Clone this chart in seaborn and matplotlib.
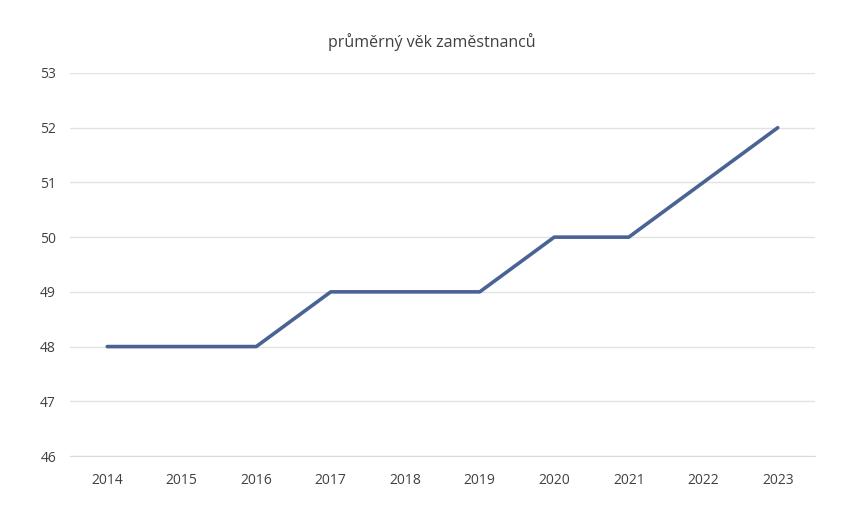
import pandas as pd
import matplotlib.pyplot as plt
import seaborn as sns

years = ['2014', '2015', '2016', '2017', '2018', '2019', '2020', '2021', '2022', '2023']
avg_age = [48, 48, 48, 49, 49, 49, 50, 50, 51, 52]

df = pd.DataFrame({'rok': years, 'vek': avg_age})

sns.set_style('white')
plt.rcParams['font.family'] = ['Open Sans', 'DejaVu Sans']

fig = plt.figure(figsize=(8.46, 5.08), dpi=100)
ax = fig.add_axes([70 / 846, 52 / 508, 745 / 846, 383 / 508])

sns.lineplot(data=df, x='rok', y='vek', ax=ax, color='#4a6395', linewidth=2.6, sort=False)

ax.set_xlim(-0.5, len(years) - 0.5)
ax.set_ylim(46, 53)
ax.set_yticks(range(46, 54))
ax.grid(axis='y', color='#e2e2e2', linewidth=1)
ax.set_axisbelow(True)
for side in ['top', 'right', 'left']:
    ax.spines[side].set_visible(False)
ax.spines['bottom'].set_color('#d9d9d9')
ax.tick_params(axis='both', length=0, labelsize=10, colors='#404040')
ax.tick_params(axis='y', pad=10)
ax.tick_params(axis='x', pad=12)
ax.set_xlabel('')
ax.set_ylabel('')

fig.text(432 / 846, 1 - 42 / 508, 'průměrný věk zaměstnanců', ha='center', va='center',
         fontsize=11.5, color='#404040')

fig.savefig('out.png', dpi=100, facecolor='white')
plt.close()
